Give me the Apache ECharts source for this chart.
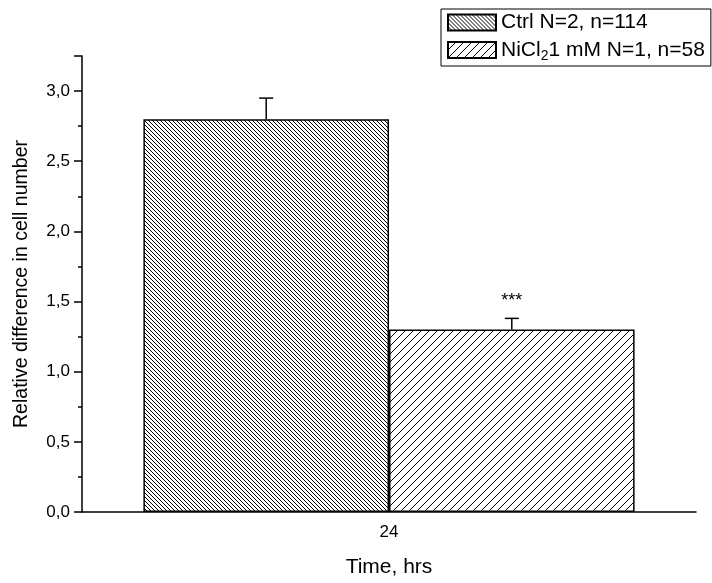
<!DOCTYPE html>
<html lang="en">
<head>
    <meta charset="UTF-8">
    <title>Cell number</title>
    <style>
        html, body { margin: 0; padding: 0; background: #fff; }
    </style>
</head>
<body>
<div id="main" style="width:712px;height:583px"></div>
<script src="https://cdn.jsdelivr.net/npm/echarts@6/dist/echarts.min.js"></script>
<script>
    // data
    var categories = ['24'];
    var ctrlValues = [2.80];
    var ctrlErrors = [2.95];
    var niValues = [1.30];
    var niErrors = [1.38];
    var niMarks = ['***'];
    var yTicks = [0, 0.5, 1.0, 1.5, 2.0, 2.5, 3.0];

    function hatch(size, dir) {
        var c = document.createElement('canvas');
        c.width = size;
        c.height = size;
        var ctx = c.getContext('2d');
        ctx.fillStyle = '#fff';
        ctx.fillRect(0, 0, size, size);
        ctx.strokeStyle = '#000';
        ctx.lineWidth = 1;
        ctx.beginPath();
        for (var k = -1; k <= 1; k++) {
            if (dir === 'back') {
                ctx.moveTo(k * size, 0);
                ctx.lineTo(k * size + size, size);
            } else {
                ctx.moveTo(k * size, size);
                ctx.lineTo(k * size + size, 0);
            }
        }
        ctx.stroke();
        return c;
    }

    var ctrlFill = {image: hatch(4, 'back'), repeat: 'repeat'};
    var niFill = {image: hatch(8, 'fwd'), repeat: 'repeat'};

    var font = 'Liberation Sans, Arial, sans-serif';

    function errorSeries(name, tops, side, marks) {
        return {
            name: name + '_err',
            type: 'custom',
            silent: true,
            z: 5,
            data: tops.map(function (v, i) { return [i, v]; }),
            renderItem: function (params, api) {
                var i = api.value(0);
                var band = api.size([1, 0])[0];
                var off = band * 0.2 * side;
                var top = api.coord([i, api.value(1)]);
                var base = api.coord([i, side < 0 ? ctrlValues[i] : niValues[i]]);
                var x = top[0] + off;
                var children = [
                    {type: 'line', shape: {x1: x, y1: base[1], x2: x, y2: top[1]},
                        style: {stroke: '#000', lineWidth: 1.5}},
                    {type: 'line', shape: {x1: x - 7, y1: top[1], x2: x + 7, y2: top[1]},
                        style: {stroke: '#000', lineWidth: 1.5}}
                ];
                if (marks && marks[i]) {
                    children.push({type: 'text', x: x, y: top[1] - 17,
                        style: {text: marks[i], fill: '#000', font: '18px ' + font,
                            align: 'center', verticalAlign: 'middle'}});
                }
                return {type: 'group', children: children};
            }
        };
    }

    var chart = echarts.init(document.getElementById('main'));
    var option = {
        animation: false,
        backgroundColor: '#fff',
        textStyle: {fontFamily: font},
        grid: {left: 82, right: 16, top: 56, bottom: 71},
        legend: {
            orient: 'vertical',
            left: 441,
            top: 9,
            padding: [3, 6, 3, 6],
            borderColor: '#000',
            borderWidth: 1,
            itemWidth: 48,
            itemHeight: 16,
            itemGap: 4,
            icon: 'rect',
            data: ['Ctrl', 'NiCl2'],
            textStyle: {
                fontSize: 21, color: '#000', fontFamily: font,
                rich: {
                    a: {fontSize: 21, lineHeight: 23, fontFamily: font, color: '#000'},
                    s: {fontSize: 14, lineHeight: 23, fontFamily: font, color: '#000', padding: [12, 0, 0, 0]}
                }
            },
            formatter: function (n) {
                if (n === 'Ctrl') return '{a|Ctrl N=2, n=114}';
                return '{a|NiCl}{s|2}{a|1 mM N=1, n=58}';
            }
        },
        xAxis: {
            type: 'category',
            data: categories,
            name: 'Time, hrs',
            nameLocation: 'middle',
            nameGap: 45,
            nameTextStyle: {fontSize: 21, color: '#000', fontFamily: font},
            axisLine: {lineStyle: {color: '#000', width: 1.5}},
            axisTick: {alignWithLabel: true, length: 8, lineStyle: {color: '#000', width: 1.5}},
            axisLabel: {fontSize: 17, color: '#000', margin: 12, fontFamily: font},
            splitLine: {show: false}
        },
        yAxis: {
            type: 'value',
            min: 0,
            max: 3.25,
            interval: 0.5,
            name: 'Relative difference in cell number',
            nameLocation: 'middle',
            nameGap: 50,
            nameTextStyle: {fontSize: 19.5, color: '#000', fontFamily: font},
            axisLine: {show: true, lineStyle: {color: '#000', width: 1.5}},
            axisTick: {show: true, length: 8, lineStyle: {color: '#000', width: 1.5}},
            minorTick: {show: true, splitNumber: 2, length: 4, lineStyle: {color: '#000', width: 1.5}},
            axisLabel: {
                fontSize: 17, color: '#000', margin: 12, fontFamily: font,
                showMaxLabel: false,
                formatter: function (v) {
                    if (yTicks.indexOf(v) < 0) return '';
                    return v.toFixed(1).replace('.', ',');
                }
            },
            splitLine: {show: false}
        },
        series: [
            {
                name: 'Ctrl',
                type: 'bar',
                data: ctrlValues,
                barGap: '0%',
                barCategoryGap: '20%',
                itemStyle: {color: ctrlFill, borderColor: '#000', borderWidth: 1.5}
            },
            {
                name: 'NiCl2',
                type: 'bar',
                data: niValues,
                itemStyle: {color: niFill, borderColor: '#000', borderWidth: 1.5}
            },
            errorSeries('Ctrl', ctrlErrors, -1, null),
            errorSeries('NiCl2', niErrors, 1, niMarks)
        ]
    };
    chart.setOption(option);
</script>
</body>
</html>
